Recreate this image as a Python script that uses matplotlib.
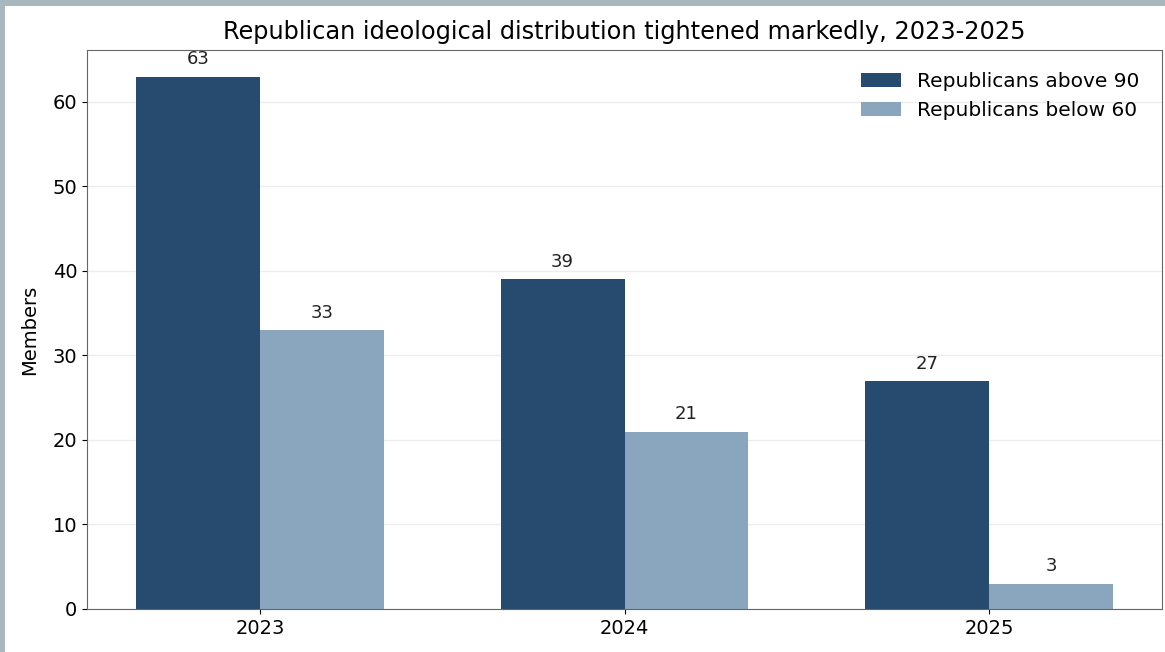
import numpy as np
import matplotlib
matplotlib.use("Agg")
from matplotlib import pyplot as plt
from matplotlib.patches import Rectangle

years = ["2023", "2024", "2025"]
above_90 = [63, 39, 27]
below_60 = [33, 21, 3]

dark = "#264b6e"
light = "#8aa6bf"

fig = plt.figure(figsize=(11.65, 6.52), dpi=100, facecolor="#a9b8be")
# white canvas inset from the top and left edge
fig.patches.append(Rectangle((5 / 1165, 0), 1, 1 - 6 / 652, transform=fig.transFigure,
                             facecolor="white", edgecolor="none", zorder=-1))
ax = fig.add_axes([87 / 1165, 1 - 609 / 652, (1162 - 87) / 1165, (609 - 50) / 652])

x = np.arange(len(years))
w = 0.34
b1 = ax.bar(x - w / 2, above_90, w, color=dark, label="Republicans above 90", zorder=2)
b2 = ax.bar(x + w / 2, below_60, w, color=light, label="Republicans below 60", zorder=2)

for bars in (b1, b2):
    for rect in bars:
        h = rect.get_height()
        ax.annotate(f"{h:g}", (rect.get_x() + rect.get_width() / 2, h),
                    xytext=(0, 6), textcoords="offset points",
                    ha="center", va="bottom", fontsize=13, color="#222222")

ax.set_xticks(x)
ax.set_xticklabels(years)
ax.set_ylabel("Members", fontsize=14, labelpad=10)
ax.set_title("Republican ideological distribution tightened markedly, 2023-2025",
             fontsize=17.3, pad=8)
ax.tick_params(labelsize=14)
ax.grid(axis="y", color="#ececec", linewidth=1, zorder=0)
ax.set_axisbelow(True)
for s in ax.spines.values():
    s.set_color("#666666")
ax.legend(frameon=False, fontsize=14.5, loc="upper right", borderaxespad=0.7)

fig.savefig("out.png", dpi=100, facecolor=fig.get_facecolor())
